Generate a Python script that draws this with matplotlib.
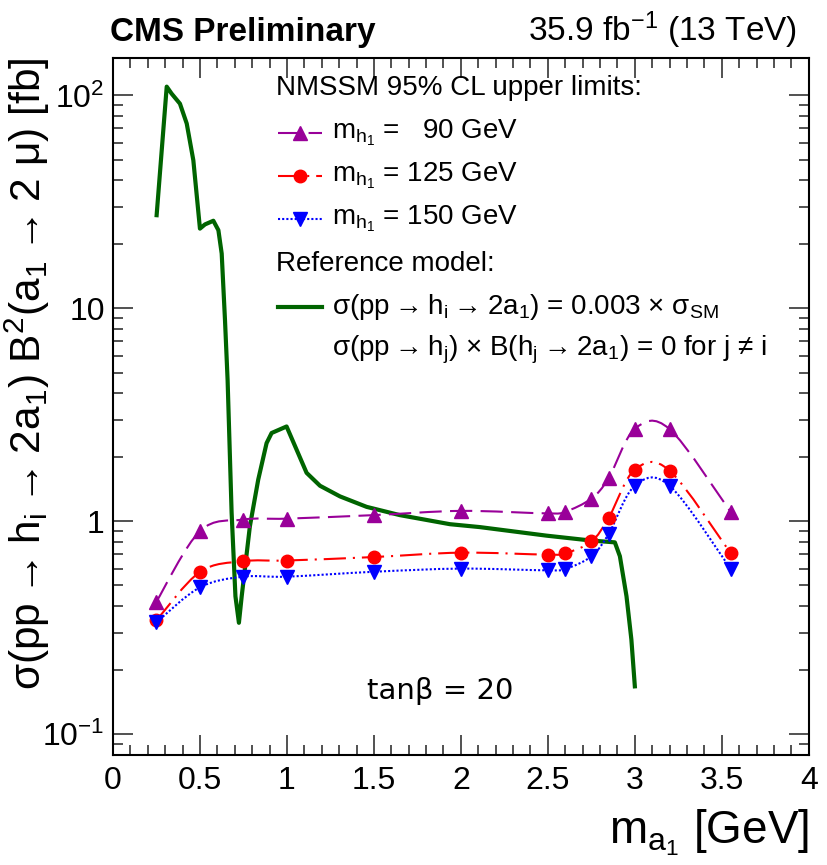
#!/usr/bin/env python3
"""NMSSM 95% CL upper limits vs m_a1, with the reference-model curve."""

import numpy as np
import matplotlib
matplotlib.use('Agg')
import matplotlib.pyplot as plt
from matplotlib import rcParams
from matplotlib.path import Path
from matplotlib.patches import PathPatch
from matplotlib.ticker import (MultipleLocator, FixedLocator, LogLocator,
                               FuncFormatter, NullFormatter)

rcParams.update({
    'font.family': ['Liberation Sans', 'DejaVu Sans'],
    'mathtext.default': 'regular',
    'lines.scale_dashes': False,
    'axes.linewidth': 1.5,
})

# ── data ─────────────────────────────────────────────────────────────────
ma = [0.25, 0.5, 0.75, 1.0, 1.5, 2.0, 2.5, 2.6, 2.75, 2.85, 3.0, 3.2, 3.55]
lim_mh90 = [0.42, 0.90, 1.02, 1.03, 1.07, 1.12, 1.09, 1.11, 1.28, 1.60,
            2.72, 2.71, 1.11]
lim_mh125 = [0.343, 0.579, 0.65, 0.655, 0.68, 0.713, 0.698, 0.708, 0.805,
             1.04, 1.75, 1.73, 0.71]
lim_mh150 = [0.336, 0.49, 0.55, 0.55, 0.58, 0.60, 0.589, 0.598, 0.685,
             0.875, 1.47, 1.47, 0.60]

ref_ma = [0.251, 0.309, 0.337, 0.385, 0.424, 0.462, 0.50, 0.529, 0.577,
          0.606, 0.625, 0.644, 0.659, 0.682, 0.704, 0.724, 0.740, 0.787,
          0.835, 0.883, 0.912, 0.998, 1.113, 1.190, 1.305, 1.458, 1.649,
          1.937, 2.109, 2.492, 2.741, 2.885, 2.914, 2.952, 2.98, 3.00]
ref_xs = [27.4, 110, 102, 91.5, 73.8, 49.6, 23.7, 24.8, 25.8,
          23.3, 18.1, 8.8, 4.6, 1.1, 0.445, 0.334, 0.445, 0.948,
          1.57, 2.33, 2.60, 2.79, 1.69, 1.47, 1.31, 1.17, 1.07,
          0.97, 0.94, 0.857, 0.814, 0.797, 0.686, 0.445, 0.279, 0.168]

C_PURPLE = '#990099'
C_RED = '#ff0000'
C_BLUE = '#0000ff'
C_GREEN = '#006400'

DASH_PURPLE = (0, (16, 6))
DASH_RED = (0, (16, 5, 1.5, 5))
DASH_BLUE = (0, (1.5, 1.5))

ARR = r'$\rightarrow$'


def smooth_path(x, y):
    """Catmull-Rom curve through the points (in x, log y), as a Bezier path."""
    px = np.asarray(x, float)
    py = np.log10(np.asarray(y, float))
    n = len(px)
    tx, ty = np.empty(n), np.empty(n)
    tx[1:-1] = (px[2:] - px[:-2]) / 2
    ty[1:-1] = (py[2:] - py[:-2]) / 2
    tx[0], ty[0] = (px[1] - px[0]) / 2, (py[1] - py[0]) / 2
    tx[-1], ty[-1] = (px[-1] - px[-2]) / 2, (py[-1] - py[-2]) / 2
    verts = [(px[0], py[0])]
    for i in range(n - 1):
        verts.append((px[i] + tx[i] / 3, py[i] + ty[i] / 3))
        verts.append((px[i + 1] - tx[i + 1] / 3, py[i + 1] - ty[i + 1] / 3))
        verts.append((px[i + 1], py[i + 1]))
    verts = np.array(verts)
    verts[:, 1] = 10 ** verts[:, 1]
    codes = [Path.MOVETO] + [Path.CURVE4] * (3 * (n - 1))
    return Path(verts, codes)


fig = plt.figure(figsize=(8.27, 8.65), dpi=100)
ax = fig.add_axes([0.1366, 0.1272, 0.8414, 0.8058])
ax.set_yscale('log')
ax.set_xlim(0, 4)
ax.set_ylim(0.08, 150)

# reference model
ax.plot(ref_ma, ref_xs, '-', color=C_GREEN, lw=3, zorder=2)

series = [
    (lim_mh90, C_PURPLE, DASH_PURPLE, '^', 10),
    (lim_mh125, C_RED, DASH_RED, 'o', 9),
    (lim_mh150, C_BLUE, DASH_BLUE, 'v', 10),
]
for vals, col, ls, mk, ms in series:
    ax.add_patch(PathPatch(smooth_path(ma, vals), fill=False, edgecolor=col,
                           lw=1.5, linestyle=ls, zorder=3))
    ax.plot(ma, vals, ls='none', marker=mk, ms=ms, color=col, mec=col,
            zorder=4)

# ── axes styling ─────────────────────────────────────────────────────────
ax.xaxis.set_major_locator(MultipleLocator(0.5))
ax.xaxis.set_minor_locator(MultipleLocator(0.1))
ax.xaxis.set_major_formatter(FuncFormatter(lambda v, _: f'{v:g}'))
ax.yaxis.set_major_locator(FixedLocator([0.1, 1, 10, 100]))
ax.yaxis.set_minor_locator(LogLocator(base=10, subs=np.arange(2, 10),
                                      numticks=20))
ylabels = {0.1: '10$^{-1}$', 1: '1', 10: '10', 100: '10$^{2}$'}
ax.yaxis.set_major_formatter(
    FuncFormatter(lambda v, _: ylabels.get(round(v, 3), '')))
ax.yaxis.set_minor_formatter(NullFormatter())
ax.tick_params(which='both', direction='in', top=True, right=True,
               labelsize=23, color='#333333')
ax.tick_params(which='major', length=14.5, width=1.2)
ax.tick_params(which='minor', length=7, width=1.2)
ax.tick_params(axis='x', pad=8)
ax.tick_params(axis='y', pad=6)

ax.set_xlabel('m$_{a_{1}}$ [GeV]', fontsize=33, loc='right')
ax.xaxis.set_label_coords(1.0, -0.075)
ax.set_ylabel(f'σ(pp{ARR}h$_{{i}}${ARR}2a$_{{1}}$) '
              f'B$^{{2}}$(a$_{{1}}${ARR}2 μ) [fb]',
              fontsize=30.5, loc='top')
ax.yaxis.set_label_coords(-0.088, 1.0)

# ── legend ───────────────────────────────────────────────────────────────
tr = ax.transAxes
x_head, x_l0, x_l1, x_txt = 0.234, 0.237, 0.300, 0.315
fs_leg = 20
ax.text(x_head, 0.957, 'NMSSM 95% CL upper limits:', transform=tr,
        fontsize=fs_leg, va='center')
entries = [
    (0.893, 'm$_{h_{1}}$ =   90 GeV', C_PURPLE, DASH_PURPLE, '^', 10),
    (0.831, 'm$_{h_{1}}$ = 125 GeV', C_RED, DASH_RED, 'o', 9),
    (0.769, 'm$_{h_{1}}$ = 150 GeV', C_BLUE, DASH_BLUE, 'v', 10),
]
for yy, label, col, ls, mk, ms in entries:
    ax.plot([x_l0, x_l1], [yy, yy], transform=tr, color=col, lw=1.5,
            ls=ls, clip_on=False)
    ax.plot([(x_l0 + x_l1) / 2], [yy], transform=tr, marker=mk, ms=ms,
            color=col, clip_on=False)
    ax.text(x_txt, yy, label, transform=tr, fontsize=fs_leg, va='center')
ax.text(x_head, 0.704, 'Reference model:', transform=tr, fontsize=fs_leg,
        va='center')
ax.plot([x_l0, x_l1], [0.643, 0.643], transform=tr, color=C_GREEN, lw=3,
        clip_on=False)
ax.text(x_txt, 0.643,
        f'σ(pp{ARR}h$_{{i}}${ARR}2a$_{{1}}$) = 0.003 × σ$_{{SM}}$',
        transform=tr, fontsize=fs_leg, va='center')
ax.text(x_txt, 0.581,
        f'σ(pp{ARR}h$_{{j}}$) × B(h$_{{j}}${ARR}2a$_{{1}}$) = 0 for j ≠ i',
        transform=tr, fontsize=fs_leg, va='center')

ax.text(0.470, 0.080, 'tanβ = 20', transform=tr, fontsize=21,
        family='DejaVu Sans', ha='center', va='baseline')

fig.text(0.133, 0.9526, 'CMS Preliminary', fontsize=24, fontweight='bold',
         va='baseline')
fig.text(0.964, 0.9526, '35.9 fb$^{-1}$ (13 TeV)', fontsize=24,
         ha='right', va='baseline')

fig.savefig('out.png', dpi=100)
